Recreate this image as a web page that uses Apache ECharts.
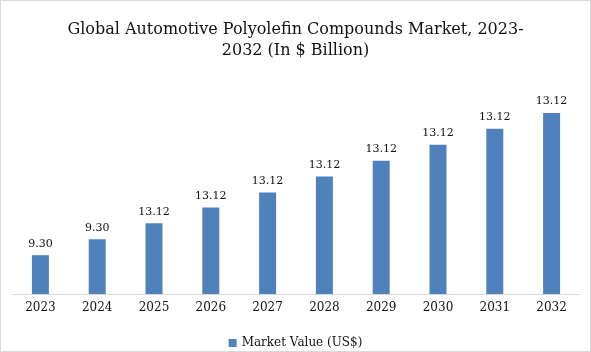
<!DOCTYPE html>
<html>
<head>
<meta charset="utf-8">
<script src="https://cdn.jsdelivr.net/npm/echarts@6/dist/echarts.min.js"></script>
<style>
    html, body { margin: 0; padding: 0; background: #fff; }
    #chart {
        width: 591px;
        height: 352px;
        box-sizing: border-box;
        border: 1px solid #d9d9d9;
    }
</style>
</head>
<body>
<div id="chart"></div>
<script>
// categories and values
var years = ['2023', '2024', '2025', '2026', '2027', '2028', '2029', '2030', '2031', '2032'];
// bar heights (as drawn)
var marketValues = [3.9, 5.5, 7.1, 8.7, 10.2, 11.8, 13.4, 15.0, 16.6, 18.2];
// labels printed above the bars (as written in the source)
var valueLabels = ['9.30', '9.30', '13.12', '13.12', '13.12', '13.12', '13.12', '13.12', '13.12', '13.12'];

var serif = 'DejaVu Serif, Liberation Serif, serif';

var myChart = echarts.init(document.getElementById('chart'));
var option = {
    animation: false,
    title: {
        text: 'Global Automotive Polyolefin Compounds Market, 2023-\n2032 (In $ Billion)',
        left: 'center',
        top: 13,
        textStyle: {
            fontFamily: serif,
            fontWeight: 'normal',
            fontSize: 16,
            lineHeight: 21,
            color: '#111'
        }
    },
    legend: {
        top: 331,
        left: 'center',
        itemWidth: 8,
        itemHeight: 8,
        icon: 'rect',
        textStyle: {
            fontFamily: serif,
            fontSize: 12,
            color: '#111'
        },
        data: ['Market Value (US$)']
    },
    grid: {
        left: 11,
        right: 10,
        top: 94,
        bottom: 57
    },
    xAxis: {
        type: 'category',
        data: years,
        axisLine: { lineStyle: { color: '#d9d9d9' } },
        axisTick: { show: false },
        axisLabel: {
            fontFamily: serif,
            fontSize: 12,
            color: '#111',
            margin: 8
        }
    },
    yAxis: {
        type: 'value',
        min: 0,
        max: 20,
        show: false,
        splitLine: { show: false }
    },
    series: [{
        name: 'Market Value (US$)',
        type: 'bar',
        data: marketValues,
        barWidth: 17,
        itemStyle: { color: '#4f81bd' },
        label: {
            show: true,
            position: 'top',
            distance: 6,
            fontFamily: serif,
            fontSize: 11,
            color: '#111',
            formatter: function (p) {
                return valueLabels[p.dataIndex];
            }
        }
    }]
};

option && myChart.setOption(option);
</script>
</body>
</html>
